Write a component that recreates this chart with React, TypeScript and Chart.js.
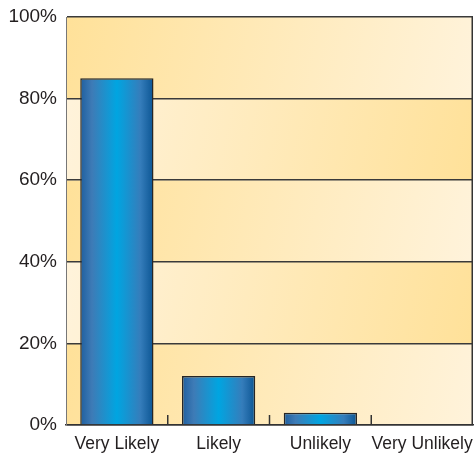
import React, { useEffect, useRef } from "react";
import { Chart, registerables } from "chart.js";

Chart.register(...registerables);

const categories = ["Very Likely", "Likely", "Unlikely", "Very Unlikely"];
const values = [85, 12, 3, 0];
const yTickValues = [0, 20, 40, 60, 80, 100];

const GOLD = "#ffe199";
const PALE = "#fff3db";
const FONT = "'Liberation Sans', Arial, Helvetica, sans-serif";
const BAR_PCT = 0.72;

const bandsPlugin = {
  id: "bands",
  beforeDraw(chart: any) {
    const { ctx, chartArea, scales } = chart;
    const y = scales.y;
    const { left, right } = chartArea;
    for (let i = 0; i < yTickValues.length - 1; i++) {
      const yBottom = y.getPixelForValue(yTickValues[i]);
      const yTop = y.getPixelForValue(yTickValues[i + 1]);
      if (![left, right, yTop, yBottom].every(Number.isFinite)) continue;
      const g = ctx.createLinearGradient(left, yTop, right, yBottom);
      const goldLeft = i % 2 === 0;
      g.addColorStop(0, goldLeft ? GOLD : PALE);
      g.addColorStop(1, goldLeft ? PALE : GOLD);
      ctx.save();
      ctx.fillStyle = g;
      ctx.fillRect(left, yTop, right - left, yBottom - yTop);
      ctx.restore();
    }
  },
  afterDatasetsDraw(chart: any) {
    const { ctx, chartArea, scales } = chart;
    const x = scales.x;
    ctx.save();
    ctx.strokeStyle = "#333333";
    ctx.lineWidth = 1.5;
    ctx.beginPath();
    ctx.moveTo(chartArea.right - 0.75, chartArea.top);
    ctx.lineTo(chartArea.right - 0.75, chartArea.bottom);
    ctx.stroke();
    for (let i = 0; i < categories.length - 1; i++) {
      const px = (x.getPixelForValue(i) + x.getPixelForValue(i + 1)) / 2;
      ctx.beginPath();
      ctx.moveTo(px, chartArea.bottom - 10);
      ctx.lineTo(px, chartArea.bottom);
      ctx.stroke();
    }
    ctx.restore();
  },
};

export default function App() {
  const canvasRef = useRef<HTMLCanvasElement | null>(null);

  useEffect(() => {
    const canvas = canvasRef.current;
    if (!canvas) return;
    const chart = new Chart(canvas, {
      type: "bar",
      data: {
        labels: categories,
        datasets: [
          {
            data: values,
            backgroundColor: (c: any) => {
              const ch = c.chart;
              const xs = ch.scales && ch.scales.x;
              if (!xs || c.dataIndex === undefined) return "#0a9ad8";
              const center = xs.getPixelForValue(c.dataIndex);
              const w = (xs.getPixelForValue(1) - xs.getPixelForValue(0)) * BAR_PCT;
              if (!Number.isFinite(center) || !Number.isFinite(w) || w <= 0) return "#0a9ad8";
              const g = ch.ctx.createLinearGradient(center - w / 2, 0, center + w / 2, 0);
              g.addColorStop(0, "#1f5f9f");
              g.addColorStop(0.16, "#3e7bb6");
              g.addColorStop(0.5, "#00a5e1");
              g.addColorStop(0.82, "#357dbb");
              g.addColorStop(1, "#0b5593");
              return g;
            },
            borderColor: "#262626",
            borderWidth: 1.5,
            barPercentage: BAR_PCT,
            categoryPercentage: 1,
          },
        ],
      },
      options: {
        responsive: false,
        animation: false,
        devicePixelRatio: 1,
        layout: { padding: { top: 17, right: 1, left: 0, bottom: 0 } },
        plugins: {
          legend: { display: false },
          tooltip: { enabled: false },
        },
        scales: {
          x: {
            grid: { display: false, drawTicks: false },
            border: { display: true, color: "#333333", width: 1.5 },
            ticks: {
              color: "#231f20",
              font: { family: FONT, size: 17.5 },
              padding: 9,
              maxRotation: 0,
              autoSkip: false,
            },
            afterFit: (s: any) => {
              s.height = 28;
              s.paddingLeft = 0;
              s.paddingRight = 0;
            },
          },
          y: {
            min: 0,
            max: 100,
            afterBuildTicks: (s: any) => {
              s.ticks = yTickValues.map((v) => ({ value: v }));
            },
            grid: { color: "#3a3a3a", lineWidth: 1.5, drawTicks: false },
            border: { display: true, color: "#777777", width: 1 },
            ticks: {
              color: "#231f20",
              font: { family: FONT, size: 19 },
              padding: 9,
              callback: (v: any) => v + "%",
            },
            afterFit: (s: any) => {
              s.width = 66;
              s.paddingTop = 0;
              s.paddingBottom = 0;
            },
          },
        },
      },
      plugins: [bandsPlugin],
    } as any);
    return () => chart.destroy();
  }, []);

  return (
    <div style={{ position: "absolute", left: 0, top: 0, width: 474, height: 453, background: "#fff" }}>
      <canvas ref={canvasRef} width={474} height={453} />
    </div>
  );
}
